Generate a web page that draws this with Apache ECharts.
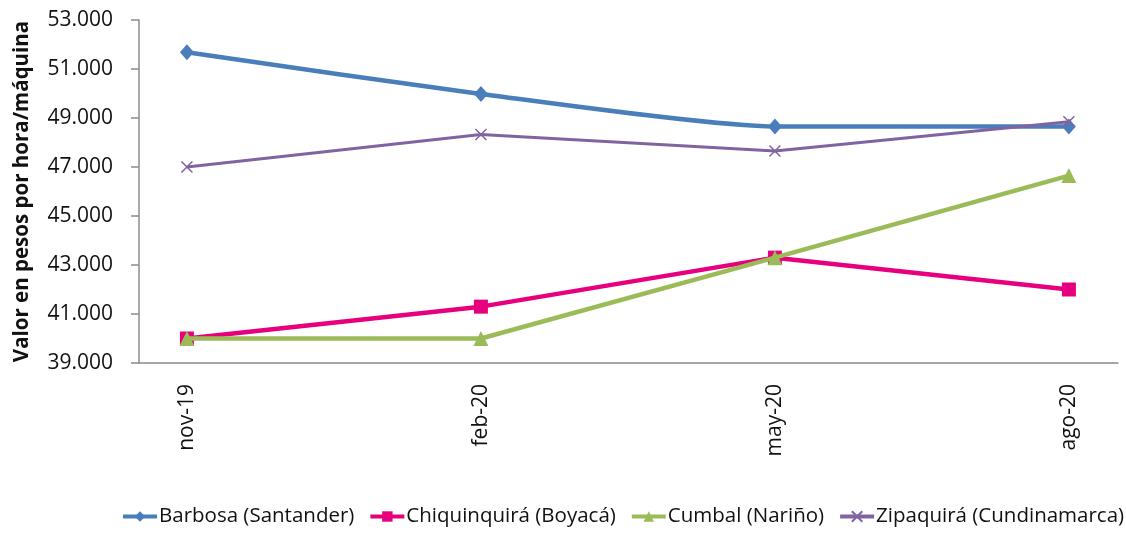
<!DOCTYPE html>
<html>
<head>
<meta charset="utf-8">
<script src="https://cdn.jsdelivr.net/npm/echarts@6/dist/echarts.min.js"></script>
<style>
  html, body { margin: 0; padding: 0; background: #fff; }
  #chart { width: 1126px; height: 533px; }
</style>
</head>
<body>
<div id="chart"></div>
<script>
// Periods on the horizontal axis
const categories = ['nov-19', 'feb-20', 'may-20', 'ago-20'];

// Hourly machine cost (thousands of pesos) per municipality
const barbosa = [51.68, 49.98, 48.65, 48.65];
const chiquinquira = [40.0, 41.3, 43.3, 42.0];
const cumbal = [40.0, 40.0, 43.3, 46.65];
const zipaquira = [47.0, 48.33, 47.65, 48.85];

// Y-axis tick values
const yTicks = [39, 41, 43, 45, 47, 49, 51, 53];

const seriesNames = [
  'Barbosa (Santander)',
  'Chiquinquirá (Boyacá)',
  'Cumbal (Nariño)',
  'Zipaquirá (Cundinamarca)'
];

const FONT = '"Open Sans", "Noto Sans", sans-serif';

const toPairs = arr => arr.map((v, i) => [i, v]);

const chart = echarts.init(document.getElementById('chart'), null, { renderer: 'canvas' });

chart.setOption({
  animation: false,
  grid: { left: 139, right: 8, top: 20, bottom: 170 },
  xAxis: {
    type: 'value',
    min: -0.163,
    max: 3.167,
    axisLine: { show: true, onZero: false, lineStyle: { color: '#8c8c8c', width: 1.5 } },
    axisTick: { show: false },
    splitLine: { show: false },
    axisLabel: {
      customValues: [0, 1, 2, 3],
      formatter: v => categories[Math.round(v)],
      rotate: 90,
      margin: 21,
      fontSize: 21,
      fontFamily: FONT,
      color: '#111'
    }
  },
  yAxis: {
    type: 'value',
    min: yTicks[0],
    max: yTicks[yTicks.length - 1],
    interval: 2,
    name: 'Valor en pesos por hora/máquina',
    nameLocation: 'middle',
    nameGap: 106,
    nameTextStyle: { fontSize: 20.5, fontWeight: 'bold', fontFamily: FONT, color: '#111' },
    axisLine: { show: true, onZero: false, lineStyle: { color: '#8c8c8c', width: 1.5 } },
    axisTick: { show: true, length: 8, lineStyle: { color: '#8c8c8c', width: 1.5 } },
    splitLine: { show: false },
    axisLabel: {
      margin: 26,
      fontSize: 21,
      fontFamily: FONT,
      color: '#111',
      formatter: v => v.toFixed(3)
    }
  },
  legend: {
    bottom: 6,
    left: 121,
    width: 1005,
    padding: 0,
    itemWidth: 34,
    itemHeight: 13,
    itemGap: 14,
    lineStyle: { width: 4 },
    textStyle: { fontSize: 20.5, fontFamily: FONT, color: '#111', padding: [0, 0, 0, -3] },
    data: seriesNames
  },
  series: [
    {
      name: seriesNames[0],
      type: 'line',
      smooth: 0.2,
      data: toPairs(barbosa),
      symbol: 'diamond',
      symbolSize: [14, 16],
      lineStyle: { color: '#4a7ebb', width: 4.5 },
      itemStyle: { color: '#4a7ebb' },
      z: 4
    },
    {
      name: seriesNames[1],
      type: 'line',
      data: toPairs(chiquinquira),
      symbol: 'rect',
      symbolSize: 14,
      lineStyle: { color: '#e6007e', width: 4.5 },
      itemStyle: { color: '#e6007e' },
      z: 2
    },
    {
      name: seriesNames[2],
      type: 'line',
      data: toPairs(cumbal),
      symbol: 'triangle',
      symbolSize: 15,
      lineStyle: { color: '#9bbb59', width: 4.5 },
      itemStyle: { color: '#9bbb59' },
      z: 3
    },
    {
      name: seriesNames[3],
      type: 'line',
      data: toPairs(zipaquira),
      symbol: 'path://M0,0L1,1M1,0L0,1',
      symbolSize: 11,
      lineStyle: { color: '#8064a2', width: 3 },
      itemStyle: { color: '#8064a2', borderColor: '#8064a2', borderWidth: 1.5 },
      z: 5
    }
  ]
});
</script>
</body>
</html>
